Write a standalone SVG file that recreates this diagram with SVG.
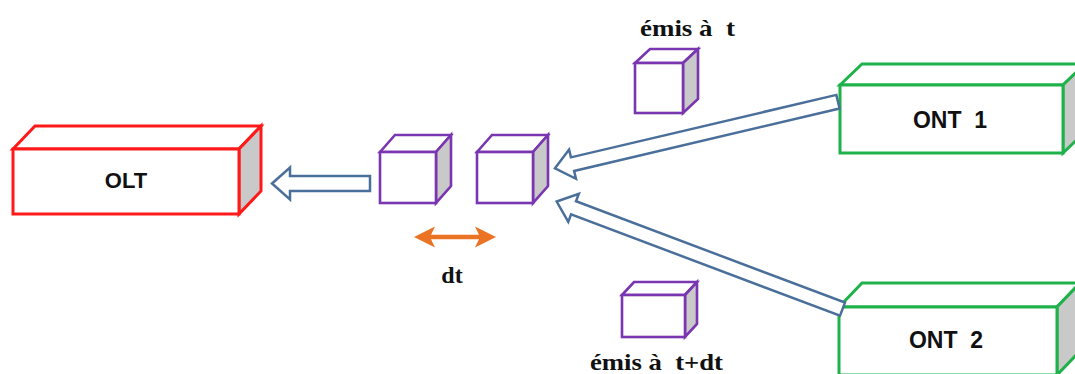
<svg xmlns="http://www.w3.org/2000/svg" width="1075" height="374" viewBox="0 0 1075 374">
<style>
.face{fill:#fff}
.side{fill:#c9c9c9}
.red{stroke:#ff1a1a;stroke-width:3;stroke-linejoin:miter}
.grn{stroke:#1fb24a;stroke-width:3;stroke-linejoin:miter}
.pur{stroke:#7a35b0;stroke-width:2.6;stroke-linejoin:miter}
.lbl{font-family:"Liberation Sans",Arial,sans-serif;font-weight:bold;fill:#111;text-anchor:middle;white-space:pre}
.ser{font-family:"Liberation Serif","Times New Roman",serif;font-weight:bold;fill:#111;font-size:24px;white-space:pre}
.blk{fill:#fff;stroke:#4a6f9a;stroke-width:2.5;stroke-linejoin:miter}
</style>
<rect width="1075" height="374" fill="#fff"/>

<g id="OLT">
<polygon class="face red" points="13,149 35,126 261,126 239,149"/>
<polygon class="side red" points="239,149 261,126 261,191 239,214"/>
<rect class="face red" x="13" y="149" width="226" height="65"/>
<text class="lbl" x="126" y="188" font-size="22">OLT</text>
</g>

<g id="ONT1">
<polygon class="face grn" points="840,85 862,64 1085,64 1063,85"/>
<polygon class="side grn" points="1063,85 1085,64 1085,132 1063,153"/>
<rect class="face grn" x="840" y="85" width="223" height="68"/>
<text class="lbl" x="950" y="128" font-size="23" xml:space="preserve">ONT  1</text>
</g>

<g id="ONT2">
<polygon class="face grn" points="839,307 862,283 1080,283 1057,307"/>
<polygon class="side grn" points="1057,307 1080,283 1080,351 1057,375"/>
<rect class="face grn" x="839" y="307" width="218" height="68"/>
<text class="lbl" x="946" y="348" font-size="23" xml:space="preserve">ONT  2</text>
</g>

<g id="cube1">
<polygon class="face pur" points="380,152 395,135 451,135 436,152"/>
<polygon class="side pur" points="436,152 451,135 451,186 436,203"/>
<rect class="face pur" x="380" y="152" width="56" height="51"/>
</g>

<g id="cube2">
<polygon class="face pur" points="477,152 492,135 548,135 533,152"/>
<polygon class="side pur" points="533,152 548,135 548,186 533,203"/>
<rect class="face pur" x="477" y="152" width="56" height="51"/>
</g>

<g id="cube-t">
<polygon class="face pur" points="635,63 650,49 698,49 683,63"/>
<polygon class="side pur" points="683,63 698,49 698,99 683,113"/>
<rect class="face pur" x="635" y="63" width="48" height="50"/>
<text class="ser" x="640" y="36" textLength="95" lengthAdjust="spacingAndGlyphs" xml:space="preserve">émis à  t</text>
</g>

<g id="cube-tdt">
<polygon class="face pur" points="622,295 634,282 697,282 685,295"/>
<polygon class="side pur" points="685,295 697,282 697,324 685,337"/>
<rect class="face pur" x="622" y="295" width="63" height="42"/>
<text class="ser" x="590" y="370" textLength="133" lengthAdjust="spacingAndGlyphs" xml:space="preserve">émis à  t+dt</text>
</g>

<g id="dt">
<line x1="428" y1="237" x2="482" y2="237" stroke="#ea7424" stroke-width="4.5"/>
<polygon points="414,237 435,226.5 430,237 435,247.5" fill="#ea7424"/>
<polygon points="496,237 475,226.5 480,237 475,247.5" fill="#ea7424"/>
<text class="ser" x="452" y="283" text-anchor="middle">dt</text>
</g>

<g id="connectors">
<polygon class="blk" transform="translate(272,183.5)" points="0,0 18,-16 18,-7.5 98,-7.5 98,7.5 18,7.5 18,16"/>
<polygon class="blk" transform="translate(555,168.3) rotate(-13.24)" points="0,0 18,-15 18,-7 290.7,-7 290.7,7 18,7 18,15"/>
<polygon class="blk" transform="translate(556.7,201.5) rotate(20.64)" points="0,0 18,-15 18,-7 305.4,-7 305.4,7 18,7 18,15"/>
</g>
</svg>
